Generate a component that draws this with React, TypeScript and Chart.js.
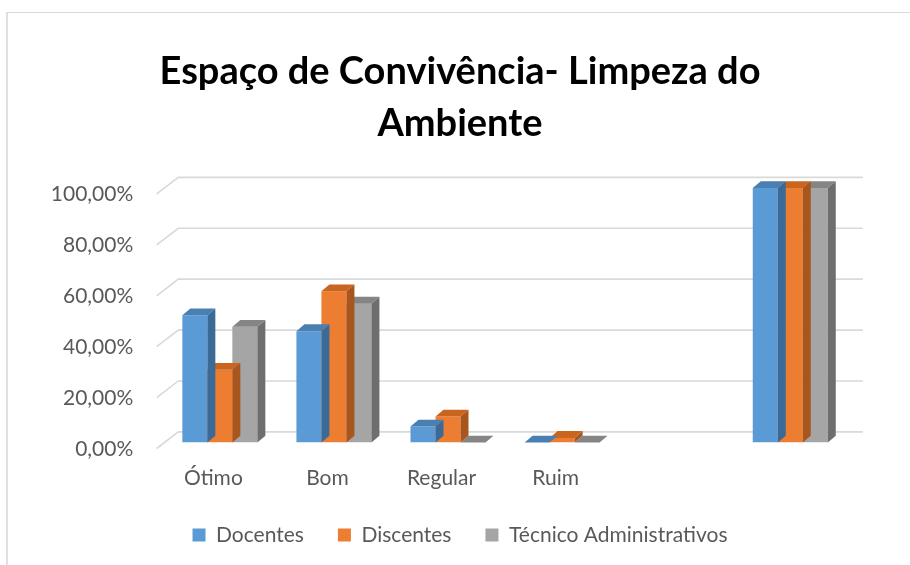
import React, { useEffect, useRef } from "react";
import { Chart, registerables } from "chart.js";

Chart.register(...registerables);

const categories = ["Ótimo", "Bom", "Regular", "Ruim", "", ""];
const docentes = [50, 43.75, 6.25, 0, null, 100];
const discentes = [28.6, 59.4, 10.2, 1.8, null, 100];
const tecnicos = [45.45, 54.55, 0, 0, null, 100];
const seriesNames = ["Docentes", "Discentes", "Técnico Administrativos"];
const yTicks = [0, 20, 40, 60, 80, 100];

const FRONT = ["#5b9bd5", "#ed7d31", "#a5a5a5"];
const TOP = ["#4a7fb1", "#c9651f", "#858585"];
const SIDE = ["#3b6a96", "#a9551e", "#6e6e6e"];

const BAR_DX = 8;
const BAR_DY = 6.8;
const BACK_DX = 15.5;
const BACK_DY = 10.6;
const FRONT_DX = 6.1;
const FRONT_DY = 6;

const depthPlugin = {
  id: "depth3d",
  beforeDatasetsDraw(chart: any) {
    const { ctx, chartArea, scales } = chart;
    const y = scales.y;
    ctx.save();
    ctx.strokeStyle = "#d9d9d9";
    ctx.lineWidth = 1.6;
    yTicks.forEach((v) => {
      const py = y.getPixelForValue(v);
      ctx.beginPath();
      ctx.moveTo(chartArea.left - FRONT_DX, py + FRONT_DY);
      ctx.lineTo(chartArea.left + BACK_DX, py - BACK_DY);
      ctx.lineTo(chartArea.right + BACK_DX, py - BACK_DY);
      ctx.stroke();
    });
    ctx.restore();
  },
  afterDatasetDraw(chart: any, args: any) {
    const { ctx } = chart;
    const i = args.index;
    const meta = args.meta;
    const values = chart.data.datasets[i].data;
    ctx.save();
    meta.data.forEach((bar: any, j: number) => {
      if (values[j] === null || values[j] === undefined) return;
      const p = bar.getProps(["x", "y", "base", "width"], true);
      const left = p.x - p.width / 2;
      const right = p.x + p.width / 2;
      const top = p.y;
      const base = p.base;
      ctx.fillStyle = TOP[i];
      ctx.beginPath();
      ctx.moveTo(left, top);
      ctx.lineTo(right, top);
      ctx.lineTo(right + BAR_DX, top - BAR_DY);
      ctx.lineTo(left + BAR_DX, top - BAR_DY);
      ctx.closePath();
      ctx.fill();
      ctx.fillStyle = SIDE[i];
      ctx.beginPath();
      ctx.moveTo(right, top);
      ctx.lineTo(right + BAR_DX, top - BAR_DY);
      ctx.lineTo(right + BAR_DX, base - BAR_DY);
      ctx.lineTo(right, base);
      ctx.closePath();
      ctx.fill();
    });
    ctx.restore();
  },
};

export default function App() {
  const ref = useRef<HTMLCanvasElement | null>(null);

  useEffect(() => {
    if (!ref.current) return;
    const font = "Lato";
    const chart = new Chart(ref.current, {
      type: "bar",
      data: {
        labels: categories,
        datasets: [docentes, discentes, tecnicos].map((d, i) => ({
          label: seriesNames[i],
          data: d,
          backgroundColor: FRONT[i],
          borderWidth: 0,
          categoryPercentage: 0.6575,
          barPercentage: 1,
          yAxisID: "y",
        })),
      },
      options: {
        responsive: false,
        animation: false,
        layout: { padding: { left: 40, right: 30, top: 0, bottom: 9.4 } },
        plugins: {
          tooltip: { enabled: false },
          title: {
            display: true,
            text: ["Espaço de Convivência- Limpeza do", "Ambiente"],
            color: "#000000",
            font: { family: font, weight: "bold", size: 38, lineHeight: 51.7 / 38 },
            padding: { top: 45.85, bottom: 38.7 },
          },
          legend: {
            position: "bottom",
            labels: {
              boxWidth: 13,
              boxHeight: 13,
              padding: 34,
              color: "#595959",
              font: { family: font, size: 21 },
            },
          },
        },
        scales: {
          x: {
            grid: { display: false, drawTicks: false },
            border: { display: false },
            ticks: {
              color: "#595959",
              font: { family: font, size: 21 },
              padding: 23.6,
              labelOffset: -6.5,
              maxRotation: 0,
              autoSkip: false,
            },
            afterFit: (s: any) => {
              s.height = 48.1;
            },
          },
          y: {
            min: 0,
            max: 100,
            grid: { display: false, drawTicks: false },
            border: { display: false },
            ticks: {
              stepSize: 20,
              color: "#595959",
              font: { family: font, size: 21 },
              padding: 29.5,
              labelOffset: 6.5,
              callback: (v: any) => Number(v).toFixed(2).replace(".", ",") + "%",
            },
            afterFit: (s: any) => {
              s.width = 122.8;
            },
          },
          yRight: {
            position: "right",
            min: 0,
            max: 100,
            grid: { display: false, drawTicks: false },
            border: { display: false },
            ticks: { display: false },
            afterFit: (s: any) => {
              s.width = 32.7;
            },
          },
        },
      },
      plugins: [depthPlugin],
    });
    return () => chart.destroy();
  }, []);

  return (
    <div
      style={{
        position: "fixed",
        left: 0,
        top: 0,
        width: 910,
        height: 565,
        background: "#ffffff",
        overflow: "hidden",
      }}
    >
      <div
        style={{
          position: "absolute",
          left: 6,
          top: 12,
          width: 920,
          height: 600,
          borderTop: "1px solid #d9d9d9",
          borderLeft: "2px solid #e0e0e0",
        }}
      />
      <canvas
        ref={ref}
        width={910}
        height={565}
        style={{ position: "absolute", left: 0, top: 0, width: 910, height: 565 }}
      />
    </div>
  );
}
